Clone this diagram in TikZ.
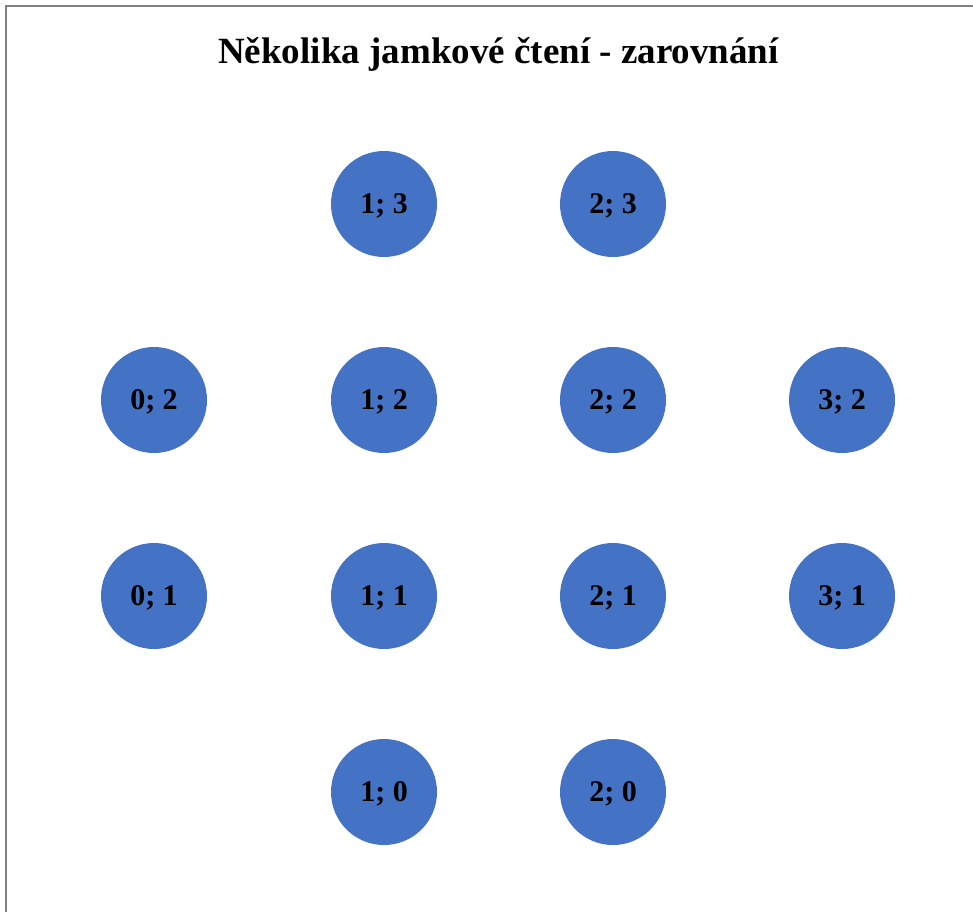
\documentclass[tikz,border=0pt]{standalone}
\usepackage{fontspec}
\setmainfont{Liberation Serif}
\definecolor{wellblue}{HTML}{4472C4}
\definecolor{framegray}{HTML}{808080}
\begin{document}
\begin{tikzpicture}[x=1pt,y=-1pt,
  well/.style={circle,fill=wellblue,minimum size=106pt,inner sep=0pt,font=\fontsize{30}{34}\selectfont\bfseries,text=black,text depth=0pt,yshift=0pt},
  titlestyle/.style={font=\fontsize{37}{42}\selectfont\bfseries,anchor=center}]
\useasboundingbox (0,0) rectangle (973,911);
\draw[framegray,line width=2pt] (5.5,930) -- (5.5,5.5) -- (990,5.5);
\node[titlestyle] (title) at (498.5,54) {Několika jamkové čtení - zarovnání};
\node[well] (w13) at (384,204) {1; 3};
\node[well] (w23) at (613,204) {2; 3};
\node[well] (w02) at (154,400) {0; 2};
\node[well] (w12) at (384,400) {1; 2};
\node[well] (w22) at (613,400) {2; 2};
\node[well] (w32) at (842,400) {3; 2};
\node[well] (w01) at (154,596) {0; 1};
\node[well] (w11) at (384,596) {1; 1};
\node[well] (w21) at (613,596) {2; 1};
\node[well] (w31) at (842,596) {3; 1};
\node[well] (w10) at (384,792) {1; 0};
\node[well] (w20) at (613,792) {2; 0};
\end{tikzpicture}
\end{document}
